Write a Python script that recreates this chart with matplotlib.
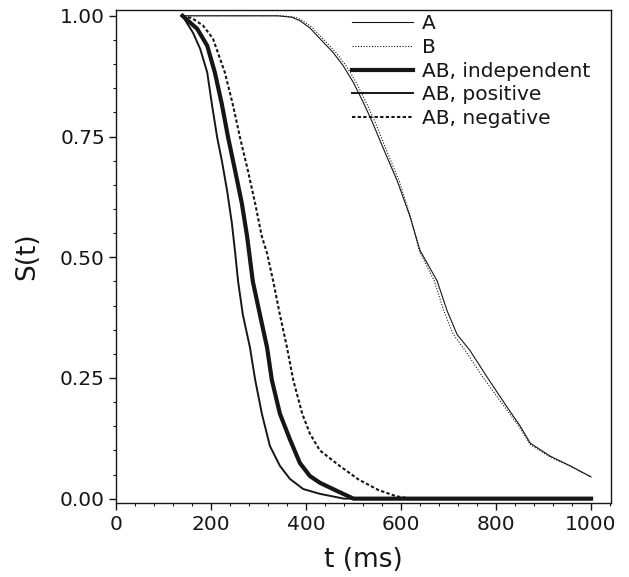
import matplotlib
matplotlib.use("Agg")
import matplotlib.pyplot as plt
from matplotlib.ticker import MultipleLocator

plt.rcParams['font.family'] = ['DejaVu Sans']

# ---- data ----
t_A = [140, 340, 370, 387, 408, 429, 457, 478, 499, 520, 539, 562, 592, 619, 640,
       676, 697, 718, 745, 781, 823, 851, 872, 914, 956, 1000]
S_A = [1.0, 1.0, 0.997, 0.99, 0.975, 0.953, 0.924, 0.897, 0.863, 0.822, 0.781, 0.727,
       0.658, 0.584, 0.514, 0.451, 0.389, 0.34, 0.307, 0.252, 0.19, 0.15, 0.115, 0.088,
       0.068, 0.045]

t_B = [140, 350, 378, 393, 414, 435, 463, 484, 505, 526, 545, 567, 596, 620, 638,
       670, 690, 710, 735, 772, 818, 848, 872, 914, 956, 1000]
S_B = [1.0, 1.0, 0.997, 0.99, 0.975, 0.953, 0.924, 0.897, 0.863, 0.822, 0.781, 0.727,
       0.658, 0.584, 0.514, 0.451, 0.389, 0.34, 0.307, 0.252, 0.19, 0.15, 0.112, 0.086,
       0.067, 0.045]

t_ind = [140, 171, 192, 208, 223, 236, 251, 265, 276, 288, 303, 318, 328, 345, 366,
         387, 408, 429, 465, 500, 1000]
S_ind = [1.0, 0.973, 0.938, 0.883, 0.816, 0.748, 0.678, 0.611, 0.543, 0.45, 0.381,
         0.313, 0.246, 0.176, 0.123, 0.074, 0.047, 0.033, 0.016, 0.0, 0.0]

t_pos = [140, 162, 177, 192, 202, 213, 223, 234, 244, 251, 257, 267, 282, 293, 307,
         324, 345, 366, 394, 429, 480, 1000]
S_pos = [1.0, 0.965, 0.932, 0.883, 0.816, 0.748, 0.699, 0.637, 0.57, 0.508, 0.45,
         0.381, 0.313, 0.246, 0.176, 0.109, 0.068, 0.041, 0.02, 0.01, 0.0, 0.0]

t_neg = [140, 160, 183, 204, 229, 246, 261, 278, 293, 307, 318, 331, 345, 360, 373,
         392, 408, 429, 468, 510, 552, 590, 620, 1000]
S_neg = [1.0, 0.995, 0.98, 0.953, 0.883, 0.816, 0.748, 0.678, 0.611, 0.543, 0.508,
         0.45, 0.381, 0.313, 0.246, 0.176, 0.135, 0.1, 0.07, 0.04, 0.018, 0.005, 0.0, 0.0]

labels = ["A", "B", "AB, independent", "AB, positive", "AB, negative"]
x_ticks = [0, 200, 400, 600, 800, 1000]
y_ticks = [0.0, 0.25, 0.5, 0.75, 1.0]

# ---- figure ----
fig = plt.figure(figsize=(6.29, 5.77), dpi=100)
ax = fig.add_axes([116/629, 1 - 503/577, (611 - 116)/629, (503 - 10)/577])

c = '#161616'
ax.plot(t_A, S_A, color=c, lw=0.8, label=labels[0])
ax.plot(t_B, S_B, color=c, lw=0.8, linestyle=(0, (1, 1.5)), label=labels[1])
ax.plot(t_ind, S_ind, color=c, lw=3.0, label=labels[2])
ax.plot(t_pos, S_pos, color=c, lw=1.4, label=labels[3])
ax.plot(t_neg, S_neg, color=c, lw=1.5, linestyle=(0, (1.6, 1.1)), label=labels[4])

ax.set_xlim(0, 1042)
ax.set_ylim(-0.009, 1.012)
ax.set_xticks(x_ticks)
ax.set_xticklabels([str(v) for v in x_ticks])
ax.set_yticks(y_ticks)
ax.set_yticklabels([f"{v:.2f}" for v in y_ticks])
ax.xaxis.set_minor_locator(MultipleLocator(40))
ax.yaxis.set_minor_locator(MultipleLocator(0.05))
ax.tick_params(which='major', direction='out', length=5, width=1, labelsize=14.5,
               colors=c)
ax.tick_params(axis='x', which='major', pad=4)
ax.tick_params(axis='y', which='major', pad=3)
ax.tick_params(which='minor', direction='out', length=2.5, width=0.8, colors=c)
for s in ax.spines.values():
    s.set_linewidth(1.0)
    s.set_color(c)

ax.set_xlabel("t (ms)", fontsize=19, color=c, labelpad=9)
ax.set_ylabel("S(t)", fontsize=19, color=c, labelpad=14)

leg = ax.legend(loc='upper left', bbox_to_anchor=(0.477, 0.991), frameon=False,
                fontsize=14.5, handlelength=3.0, handletextpad=0.45,
                labelspacing=0.23, borderaxespad=0.0, borderpad=0.0)
for txt in leg.get_texts():
    txt.set_color(c)

fig.savefig("out.png", dpi=100)
